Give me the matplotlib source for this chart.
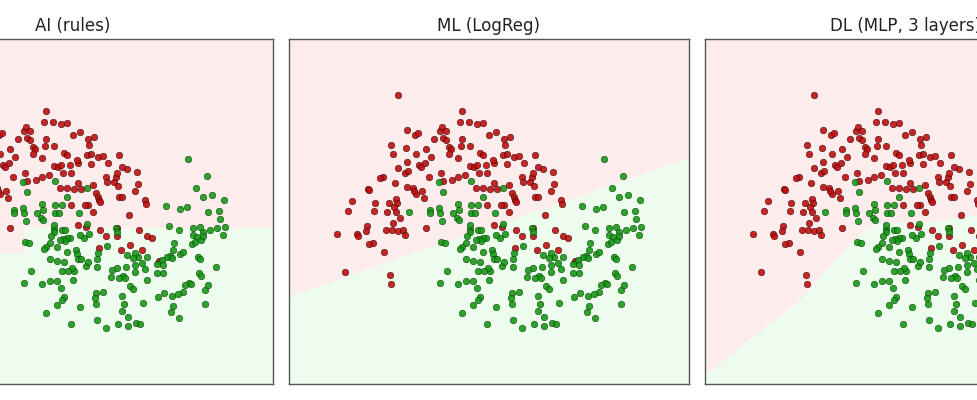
import numpy as np
import matplotlib
matplotlib.use("Agg")
import matplotlib.pyplot as plt
from matplotlib.colors import ListedColormap

# points (same data in every panel)
red_x = [-0.37, 0.27, 0.25, 0.34, 0.42, 0.48, -0.28, -0.20, -0.17, 0.05, 0.07, 0.11, -0.01, 0.08,
         0.11, 0.27, 0.54, 0.61, -0.44, -0.29, -0.09, 0.14, 0.16, 0.26, 0.35, 0.69, 0.75, 0.70,
         -0.42, -0.37, -0.28, -0.30, -0.27, -0.19, -0.16, -0.14, -0.10, -0.06, -0.04, 0.06, 0.08,
         0.14, 0.17, 0.23, 0.23, 0.30, 0.35, 0.39, 0.42, 0.44, 0.45, 0.48, 0.52, 0.51, 0.59, 0.59,
         0.58, 0.68, 0.72, 0.72, 0.79, 0.84, 0.89, 1.00, 1.03, 1.08, 1.18, 0.87, 0.88, 0.95, 0.97,
         0.98, 0.99, 1.19, 1.16, -0.52, -0.55, -0.40, -0.28, -0.22, -0.19, -0.11, -0.13, -0.21,
         0.41, 0.48, 0.55, 0.62, 0.74, 0.77, 0.79, 0.80, 0.81, 0.69, 0.74, 1.00, 1.03, 1.26, 1.27,
         1.10, -0.67, -0.66, -0.83, -0.87, -0.60, -0.61, -0.48, -0.46, -0.39, -0.38, -0.41, -0.39,
         -0.35, -0.42, -0.49, -0.43, -0.37, -0.32, -0.68, -0.69, -0.78, -0.77, -0.62, -0.66, -0.98,
         -0.30, -0.09, 0.52, 0.66, 0.59, 0.67, 0.81, 0.87, 0.98, 1.20, 1.28, 1.33, 0.98, -0.51,
         -0.90, -0.45, -0.44, 0.80, 1.02, 1.11, 1.23, 1.40]
red_y = [1.45, 1.29, 1.18, 1.18, 1.16, 1.17, 1.10, 1.05, 1.07, 1.09, 1.13, 1.09, 1.01, 1.02,
         1.00, 1.01, 1.05, 1.08, 0.95, 0.92, 0.91, 0.93, 0.91, 0.94, 0.94, 1.01, 1.03, 0.95,
         0.86, 0.72, 0.78, 0.67, 0.69, 0.86, 0.75, 0.73, 0.77, 0.63, 0.83, 0.67, 0.59,
         0.86, 0.60, 0.82, 0.63, 0.65, 0.74, 0.73, 0.75, 0.67, 0.87, 0.85, 0.67, 0.75, 0.77, 0.57,
         0.80, 0.85, 0.76, 0.86, 0.83, 0.84, 0.77, 0.85, 0.73, 0.71, 0.68, 0.63, 0.58, 0.58, 0.63,
         0.67, 0.54, 0.56, 0.49, 0.63, 0.62, 0.57, 0.53, 0.52, 0.46, 0.42, 0.49, 0.49,
         0.52, 0.52, 0.51, 0.51, 0.55, 0.47, 0.43, 0.40, 0.38, 0.35, 0.28, 0.43, 0.43, 0.40, 0.36,
         0.25, 0.51, 0.50, 0.39, 0.29, 0.37, 0.29, 0.28, 0.37, 0.41, 0.37, 0.33, 0.28,
         0.22, 0.17, 0.10, 0.10, 0.09, 0.10, 0.14, 0.09, 0.06, 0.04, -0.03, -0.04, 0.06,
         0.05, 0.12, 0.35, 0.35, 0.15, 0.13, 0.10, 0.04, 0.04, 0.10, 0.04, 0.02, 0.12, -0.12,
         -0.32, -0.35, -0.44, -0.08, -0.10, -0.05, -0.10, -0.21]

green_x = [0.04, 0.08, 0.36, 0.68, 0.48, -0.26, -0.05, -0.05, 0.04, 0.05, 0.18, 0.23, 0.24, 0.22,
           0.24, 0.07, 0.36, 0.43, 0.36, 0.40, 0.60, 0.68, 0.70, 0.65, 0.61, 0.51, 0.48, 0.44, 0.46,
           0.41, 0.35, 0.35, 0.35, 0.43, 0.46, 0.31, 0.32, 0.27, 0.25, 0.38, 0.48, 0.57, 0.58, 0.59,
           0.62, 0.67, 0.69, 0.06, 0.10, 0.12, 0.05, 0.23, 0.31, 0.38, 0.42, 0.45, 0.43, 0.38, 0.54,
           0.55, 0.61, 0.53, 0.31, 0.38, 0.43, 0.49, 0.45, 1.47, 1.68, 1.61, 1.84, 1.93, 2.05, 1.89,
           2.00, 2.01, 2.06, 2.04, 1.98, 1.91, 1.84, 1.81, 1.74, 1.74, 1.78, 1.82, 1.73, 1.76, 1.84,
           1.69, 1.88, 1.77, 1.50, 1.60, 1.55, 1.54, 1.51, 1.48, 1.43, 1.44, 1.38, 1.28, 1.19, 1.16,
           1.08, 1.14, 1.23, 1.16, 1.07, 0.98, 0.93, 1.04, 1.06, 0.92, 1.00, 1.16, 1.26, 1.28, 1.38,
           1.44, 1.53, 1.61, 1.64, 1.79, 1.81, 1.80, 1.82, 1.97, 1.70, 1.66, 1.72, 1.64, 1.59, 1.53,
           1.45, 1.39, 1.54, 1.86, 1.89, 1.86, 0.78, 0.79, 0.88, 0.97, 0.98, 0.78, 1.11, 1.14, 1.24,
           1.05, 1.03, 0.84, 0.77, 0.76, 0.77, 0.27, 0.52, 0.78, 0.87, 0.99, 1.09, 1.09, 1.17, 1.21,
           1.03, 1.60, 1.52]
green_y = [0.58, 0.48, 0.59, 0.52, 0.43, 0.28, 0.30, 0.27, 0.32, 0.27, 0.27, 0.36, 0.30, 0.22,
           0.20, 0.19, 0.35, 0.35, 0.27, 0.27, 0.27, 0.16, 0.06, 0.02, 0.05, 0.02, 0.02, 0.01, -0.01,
           0.00, 0.11, 0.15, 0.08, 0.10, 0.10, -0.03, 0.04, -0.07, -0.09, -0.07, -0.12, -0.10, -0.14,
           -0.19, -0.19, -0.26, -0.22, -0.02, -0.03, -0.31, -0.43, -0.44, -0.41, -0.41, -0.48, -0.57,
           -0.60, -0.65, -0.40, -0.31, -0.67, -0.28, -0.19, -0.21, -0.31, -0.31, -0.22, 0.34, 0.33,
           0.31, 0.43, 0.45, 0.40, 0.28, 0.29, 0.21, 0.13, 0.05, 0.12, 0.10, 0.08, 0.13, 0.12, 0.05,
           0.03, 0.00, -0.04, -0.02, 0.04, 0.81, 0.64, 0.52, 0.14, 0.10, -0.03, -0.10, -0.16, -0.17,
           -0.20, -0.25, -0.24, -0.17, -0.17, -0.13, -0.15, -0.18, -0.23, -0.25, -0.27, -0.28, -0.30,
           -0.36, -0.38, -0.37, -0.38, -0.32, -0.29, -0.40, -0.33, -0.33, -0.18, -0.14, -0.12, -0.17,
           -0.19, -0.33, -0.36, -0.27, -0.43, -0.45, -0.44, -0.52, -0.54, -0.56, -0.53, -0.57, -0.66,
           -0.50, -0.45, -0.64, -0.19, -0.13, -0.06, 0.12, 0.08, -0.27, -0.46, -0.49, -0.63, -0.64,
           -0.56, -0.52, -0.53, -0.58, -0.64, -0.73, -0.84, -0.80, -0.88, -0.84, -0.86, -0.77, -0.83,
           -0.84, -0.71, -0.78, -0.72]

titles = ["AI (rules)", "ML (LogReg)", "DL (MLP, 3 layers)"]

# hand rules: red above a threshold that is lower on the left side
rule_split_x = 0.06
rule_low_y = -0.13
rule_high_y = 0.12

# logistic regression weights (x, y) and bias
lr_coef = [-0.345, 1.0]
lr_bias = 0.062

# MLP boundary traced along x
mlp_bx = [-1.50, -0.51, -0.18, 0.06, 0.22, 0.49, 0.82, 1.27, 2.60]
mlp_by = [-1.39, -0.60, -0.23, 0.03, 0.15, 0.18, 0.18, 0.25, 0.36]

x_min, x_max = -1.46, 2.54
y_min, y_max = -1.44, 2.01

xx, yy = np.meshgrid(np.linspace(x_min, x_max, 600), np.linspace(y_min, y_max, 500))

z_rules = ((yy > rule_high_y) | ((xx < rule_split_x) & (yy > rule_low_y))).astype(int)
z_lr = (lr_coef[0] * xx + lr_coef[1] * yy + lr_bias > 0).astype(int)
z_mlp = (yy > np.interp(xx, mlp_bx, mlp_by)).astype(int)

bg = ListedColormap(["#edfced", "#fdecec"])

W, H = 978, 400
fig = plt.figure(figsize=(W / 100, H / 100), dpi=100)
lefts = [-127, 289, 705]
for left, title, z in zip(lefts, titles, [z_rules, z_lr, z_mlp]):
    ax = fig.add_axes([left / W, 16 / H, 400 / W, 345 / H])
    ax.contourf(xx, yy, z, levels=[-0.5, 0.5, 1.5], cmap=bg, antialiased=True)
    ax.scatter(red_x, red_y, s=22, c="#bf0f0f", alpha=0.9, edgecolors="#3a0000", linewidths=0.4)
    ax.scatter(green_x, green_y, s=22, c="#189a18", alpha=0.9, edgecolors="#003a00", linewidths=0.4)
    ax.set_xlim(x_min, x_max)
    ax.set_ylim(y_min, y_max)
    ax.set_xticks([])
    ax.set_yticks([])
    for sp in ax.spines.values():
        sp.set_color("#555555")
        sp.set_linewidth(1.0)
    ax.set_title(title, fontsize=12, color="#222222")

fig.savefig("out.png", dpi=100)
